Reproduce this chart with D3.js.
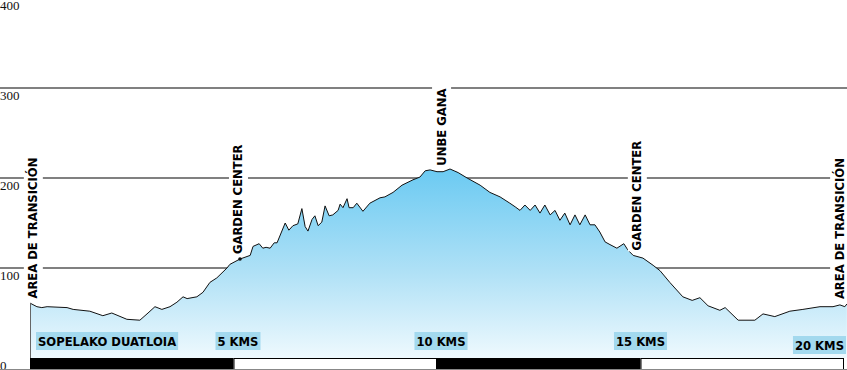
<!DOCTYPE html>
<html><head><meta charset="utf-8">
<script src="https://cdn.jsdelivr.net/npm/d3@7"></script>
<style>html,body{margin:0;padding:0;background:#fff;overflow:hidden}svg{display:block}</style>
</head><body><svg id="c" width="847" height="370"></svg>
<script>
const distanceKm = [0,0.17,0.29,0.42,0.91,1.06,1.47,1.79,2.01,2.38,2.70,2.90,3.07,3.24,3.44,3.61,3.76,3.86,4.10,4.25,4.42,4.59,4.84,4.91,5.16,5.41,5.48,5.63,5.72,5.80,5.90,6.00,6.07,6.27,6.36,6.46,6.58,6.68,6.76,6.83,6.93,7.00,7.08,7.17,7.25,7.35,7.44,7.57,7.62,7.69,7.79,7.84,7.94,8.03,8.18,8.35,8.60,8.72,8.92,9.14,9.41,9.58,9.71,9.83,10.0,10.15,10.32,10.42,10.52,10.74,11.06,11.30,11.55,11.79,11.92,12.04,12.16,12.29,12.41,12.53,12.65,12.78,12.90,13.02,13.14,13.27,13.39,13.51,13.64,13.76,13.88,14.00,14.13,14.25,14.42,14.59,14.69,14.82,15.06,15.31,15.48,15.72,16.04,16.27,16.46,16.66,16.95,17.08,17.40,17.81,18.01,18.30,18.67,18.99,19.41,19.73,19.90,20.02,20.07];
const elevationM = [61,57,56,57,56,54,52,47,50,43,42,50,57,54,57,62,68,66,68,73,84,89,100,104,110,114,124,127,122,123,122,128,128,150,142,147,149,166,146,141,154,158,147,151,169,158,159,164,171,167,177,167,167,172,163,172,178,179,184,192,198,201,208,209,207,207,210,208,206,200,192,184,179,172,168,164,170,164,170,161,170,159,164,153,161,148,159,148,159,148,148,140,129,126,122,127,120,114,111,103,97,84,68,64,67,58,53,56,42,42,49,46,52,54,57,57,59,57,60];
const yTicks = [0,100,200,300,400];
const scaleKm = [0,5,10,15,20];
const kmLabels = ["SOPELAKO DUATLOIA","5 KMS","10 KMS","15 KMS","20 KMS"];
const kmLabelKm = [0,5,10,15,20];
const placeNames = ["AREA DE TRANSICIÓN","GARDEN CENTER","UNBE GANA","GARDEN CENTER","AREA DE TRANSICIÓN"];
const placeKm = [0.07,5.11,10.1,14.91,19.88];

const svg = d3.select("#c");
const W = 847, H = 370;
const x = d3.scaleLinear().domain([0,20]).range([30,844]);
const y = d3.scaleLinear().domain([0,400]).range([358,-2]);
const data = distanceKm.map((d,i)=>({km:d, e:elevationM[i]}));
const labelFont = "'DejaVu Sans', Verdana, sans-serif";
const labelSize = 11.6;

// gradient
const defs = svg.append("defs");
const g = defs.append("linearGradient").attr("id","fillg").attr("gradientUnits","userSpaceOnUse")
  .attr("x1",0).attr("x2",0).attr("y1",y(210)).attr("y2",y(0));
g.append("stop").attr("offset",0).attr("stop-color","#6bcaf2");
g.append("stop").attr("offset",0.55).attr("stop-color","#b0e1f6");
g.append("stop").attr("offset",1).attr("stop-color","#eef9fe");

// gridlines
svg.append("g").selectAll("line").data(yTicks.filter(t=>t>0)).join("line")
  .attr("x1",0).attr("x2",W).attr("y1",d=>y(d)).attr("y2",d=>y(d))
  .attr("stroke","#808080").attr("stroke-width",2);

// y labels
svg.append("g").selectAll("text").data(yTicks).join("text")
  .attr("x",0).attr("y",d=>Math.min(y(d)+11.5, 369.5))
  .attr("font-family","'Liberation Serif', 'Times New Roman', serif").attr("font-size",13)
  .attr("fill","#111").text(d=>d);

// area
const area = d3.area().x(d=>x(d.km)).y0(y(0)).y1(d=>y(d.e));
svg.append("path").datum(data).attr("d",area).attr("fill","url(#fillg)");
const line = d3.line().x(d=>x(d.km)).y(d=>y(d.e));
svg.append("path").datum(data).attr("d",line).attr("fill","none").attr("stroke","#111").attr("stroke-width",1);
const first = data[0], last = data[data.length-1];
svg.append("line").attr("x1",x(first.km)+0.5).attr("x2",x(first.km)+0.5).attr("y1",y(first.e)).attr("y2",y(0)).attr("stroke","#666").attr("stroke-width",1);

// marker dot near garden center
svg.append("circle").attr("cx",x(5.16)).attr("cy",y(110)).attr("r",1.8).attr("fill","#111");

// scale bar
const segs = d3.pairs(scaleKm);
svg.append("g").selectAll("rect").data(segs).join("rect")
  .attr("x",d=>x(d[0])+0.5).attr("y",358.5).attr("width",d=>x(d[1])-x(d[0])-1).attr("height",11)
  .attr("fill",(d,i)=>i%2===0?"#000":"#fff").attr("stroke","#000").attr("stroke-width",1);
svg.append("line").attr("x1",0).attr("x2",W).attr("y1",369.5).attr("y2",369.5).attr("stroke","#888");

// km labels
const kmOffset = [6, 4.5, 4, 0, 0];
const kmG = svg.append("g");
kmLabels.forEach((t,i)=>{
  const txt = kmG.append("text").attr("font-family",labelFont).attr("font-weight","bold")
    .attr("font-size",labelSize).attr("fill","#000").text(t);
  const w = txt.node().getComputedTextLength();
  let bx;
  if (i===0) bx = x(kmLabelKm[i]) + kmOffset[i];
  else bx = x(kmLabelKm[i]) + kmOffset[i] - (w+4)/2;
  if (bx + w + 4 > W - 1) bx = W - 1 - (w+4);
  const by = i===kmLabels.length-1 ? 336 : 332;
  kmG.insert("rect","text").attr("x",bx).attr("y",by).attr("width",w+4).attr("height",18).attr("fill","#a3d9ee");
  txt.attr("x",bx+2).attr("y",by+13.5);
});

// vertical place labels
const interp = km => { const i = d3.bisector(d=>d.km).left(data, km); if(i<=0) return data[0].e; if(i>=data.length) return last.e; const a=data[i-1], b=data[i]; return a.e+(b.e-a.e)*(km-a.km)/(b.km-a.km); };
const pG = svg.append("g");
placeNames.forEach((t,i)=>{
  const cx = x(placeKm[i]);
  const bottom = y(interp(placeKm[i])) - 6;
  const tg = pG.append("g");
  const txt = tg.append("text").attr("font-family",labelFont).attr("font-weight","bold")
    .attr("font-size",labelSize).attr("fill","#000").attr("transform",`translate(${cx+4.5},${bottom}) rotate(-90)`).text(t);
  const w = txt.node().getComputedTextLength();
  tg.insert("rect","text").attr("x",cx-9).attr("y",bottom-w-2).attr("width",19).attr("height",w+3).attr("fill","#fff");
});
</script></body></html>
